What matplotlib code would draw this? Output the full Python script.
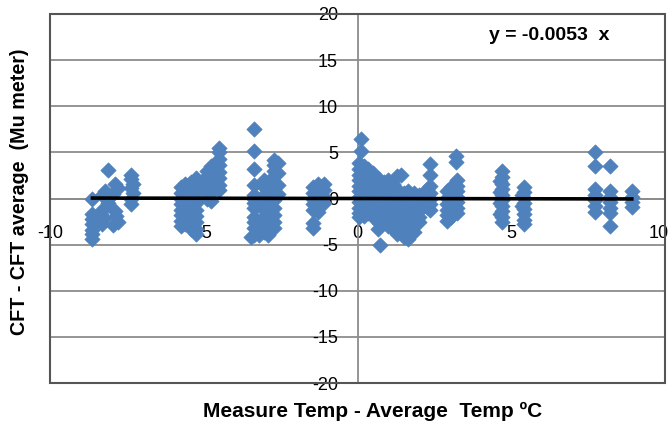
import matplotlib
matplotlib.use("Agg")
import matplotlib.pyplot as plt
from matplotlib.patches import Rectangle
from matplotlib.transforms import ScaledTranslation
import numpy as np

plt.rcParams['font.family'] = ['Liberation Sans', 'DejaVu Sans']

# ---- data ----
x_a = [-8.62] * 7
y_a = [0.0, -1.7, -2.2, -2.8, -3.4, -3.9, -4.4]
x_b = [-8.12, -8.3, -8.2, -8.3, -8.25, -8.3, -8.05, -8.1, -8.35, -8.4]
y_b = [3.1, 0.4, 0.8, -1.2, -2.1, -2.8, 0.2, -0.5, -1.7, -2.4]
x_c = [-7.9, -7.8, -7.95, -7.85, -7.8, -7.95, -7.9]
y_c = [1.6, 1.1, 0.5, -1.9, -2.5, -2.9, -1.4]
x_d = [-7.35, -7.35, -7.3, -7.35, -7.3, -7.35, -7.35]
y_d = [2.6, 2.1, 1.6, 1.1, 0.6, 0.0, -0.6]
x_e = [-5.75] * 8 + [-5.6] * 8 + [-5.4] * 9 + [-5.25] * 10
y_e = [1.2, 0.6, 0.0, -0.6, -1.2, -1.8, -2.4, -3.0,
       1.6, 1.0, 0.3, -0.3, -1.0, -1.6, -2.2, -2.8,
       1.8, 1.2, 0.5, -0.2, -0.8, -1.5, -2.1, -2.7, -3.3,
       2.2, 1.5, 0.8, 0.1, -0.5, -1.2, -1.9, -2.6, -3.3, -3.8]
x_f = [-4.9] * 6 + [-4.78] * 6 + [-4.5] * 8 + [-4.62] * 4
y_f = [3.0, 2.4, 1.8, 1.2, 0.6, 0.0,
       3.5, 2.8, 2.0, 1.3, 0.6, -0.3,
       5.5, 5.0, 4.3, 3.6, 2.9, 2.2, 1.5, 0.9,
       3.2, 2.5, 1.8, 1.2]
x_g = [-3.35] * 12 + [-3.45, -3.2]
y_g = [7.5, 5.1, 3.2, 1.5, 0.4, 0.0, -0.5, -1.0, -2.0, -2.6, -3.2, -4.0,
       -4.2, -4.0]
x_h = [-3.05] * 8 + [-2.9] * 8 + [-2.72] * 12 + [-2.6] * 4
y_h = [2.0, 1.2, 0.4, -0.4, -1.2, -2.0, -2.8, -3.6,
       1.5, 0.8, -0.2, -1.0, -1.8, -2.6, -3.4, -4.0,
       4.2, 3.6, 3.0, 2.4, 1.8, 1.2, 0.5, -0.2, -1.0, -1.8, -2.5, -3.2,
       3.8, 2.8, 1.5, 0.5]
x_i = [-1.45] * 7 + [-1.3] * 6 + [-1.1] * 4
y_i = [1.2, 0.6, 0.0, -0.6, -1.2, -2.7, -3.2,
       1.6, 1.0, 0.4, -0.3, -0.9, -1.5,
       1.6, 0.9, 0.2, -0.5]
x_j = [0.1, 0.1] + [0.05] * 11 + [0.2] * 10 + [0.35] * 9 + [0.5] * 9 + [0.68, 0.72]
y_j = [6.4, 5.2,
       3.8, 3.2, 2.6, 2.0, 1.4, 0.8, 0.2, -0.4, -1.0, -1.6, -2.0,
       3.5, 2.9, 2.3, 1.7, 1.1, 0.5, -0.1, -0.7, -1.3, -1.9,
       3.2, 2.6, 2.0, 1.4, 0.8, 0.2, -0.4, -1.0, -1.6,
       2.8, 2.2, 1.6, 1.0, 0.4, -0.2, -0.8, -1.4, -2.0,
       -3.3, -5.0]
x_k = ([0.7] * 9 + [0.85] * 8 + [1.0] * 9 + [1.15] * 9 + [1.3] * 10 + [1.4]
       + [1.5] * 9 + [1.65] * 9 + [1.85] * 8 + [2.0] * 6)
y_k = [2.1, 1.4, 0.8, 0.2, -0.4, -1.0, -1.6, -2.2, -2.7,
       1.8, 1.2, 0.5, -0.1, -0.7, -1.3, -1.9, -2.5,
       2.0, 1.4, 0.6, 0.0, -0.6, -1.2, -1.8, -2.4, -3.0,
       1.6, 0.9, 0.3, -0.3, -0.9, -1.5, -2.1, -2.7, -3.3,
       2.4, 1.0, 0.4, -0.2, -0.8, -1.4, -2.0, -2.6, -3.2, -3.8,
       2.6,
       0.6, 0.0, -0.6, -1.2, -1.8, -2.4, -3.0, -3.6, -4.2,
       0.8, 0.2, -0.4, -1.0, -1.6, -2.2, -2.8, -3.4, -4.4,
       0.6, 0.0, -0.6, -1.2, -1.8, -2.4, -3.0, -3.6,
       0.4, -0.2, -0.8, -1.4, -2.0, -2.6]
x_l = [2.36] * 7 + [2.25] * 3
y_l = [3.7, 2.5, 1.4, 0.6, 0.0, -0.6, -1.3, 1.0, -0.3, -0.9]
x_m = [3.2, 3.2] + [3.25] * 7 + [3.05] * 6 + [2.9] * 6
y_m = [4.6, 4.0,
       2.0, 1.4, 0.8, 0.2, -0.4, -1.0, -1.6,
       1.2, 0.5, -0.2, -0.8, -1.4, -2.0,
       0.8, 0.1, -0.6, -1.2, -1.8, -2.4]
x_n = [4.7] * 10 + [4.65] * 4
y_n = [3.0, 2.3, 1.6, 1.0, 0.4, -0.2, -0.8, -1.4, -2.0, -2.6,
       1.9, 0.7, -0.5, -1.7]
x_o = [5.4] * 8 + [5.35] * 2
y_o = [1.3, 0.7, 0.1, -0.5, -1.1, -1.7, -2.3, -2.8, 0.4, -0.8]
x_p = [7.72] * 7
y_p = [5.0, 3.5, 1.0, 0.4, -0.2, -0.8, -1.5]
x_q = [8.21] * 7
y_q = [3.5, 0.8, 0.2, -0.4, -1.0, -1.6, -3.0]
x_r = [8.92] * 4
y_r = [0.8, 0.2, -0.4, -0.9]

x_data = np.array(x_a + x_b + x_c + x_d + x_e + x_f + x_g + x_h + x_i + x_j
                  + x_k + x_l + x_m + x_n + x_o + x_p + x_q + x_r)
y_data = np.array(y_a + y_b + y_c + y_d + y_e + y_f + y_g + y_h + y_i + y_j
                  + y_k + y_l + y_m + y_n + y_o + y_p + y_q + y_r)

slope = -0.0053
x_ticks = [-10, -5, 0, 5, 10]
y_ticks = [-20, -15, -10, -5, 0, 5, 10, 15, 20]

# ---- figure ----
W, H = 668, 424
fig = plt.figure(figsize=(W / 100, H / 100), dpi=100)
ax = fig.add_axes([50 / W, 1 - 383 / H, 615 / W, 369 / H])
ax.set_xlim(-10, 10)
ax.set_ylim(-20, 20)

grid_c = '#8c8c8c'
for yv in y_ticks[1:-1]:
    ax.axhline(yv, color=grid_c, lw=1.3, zorder=1)

for s in ['top', 'right']:
    ax.spines[s].set_visible(False)
ax.spines['left'].set_position(('data', 0))
ax.spines['bottom'].set_position(('data', 0))
for s in ['left', 'bottom']:
    ax.spines[s].set_color(grid_c)
    ax.spines[s].set_linewidth(1.3)

ax.add_patch(Rectangle((0, 0), 1, 1, transform=ax.transAxes, fill=False,
                       edgecolor='#555555', lw=1.5, zorder=5, clip_on=False))

ax.set_xticks(x_ticks)
ax.set_yticks(y_ticks)
ax.set_xticklabels([str(v) for v in x_ticks])
ax.set_yticklabels([str(v) for v in y_ticks])
ax.tick_params(axis='x', length=0, pad=19, labelsize=13)
ax.tick_params(axis='y', length=0, pad=14, labelsize=13)
xlabels = ax.get_xticklabels()
for lab in xlabels + ax.get_yticklabels():
    lab.set_clip_on(False)
# keep the right-most label inside the figure
last = xlabels[-1]
last.set_horizontalalignment('right')
last.set_transform(last.get_transform() + ScaledTranslation(3 / 72, 0, fig.dpi_scale_trans))

ax.scatter(x_data, y_data, marker='D', s=62, color='#4F81BD',
           edgecolors='#4F81BD', linewidths=0.4, zorder=3)

xl = np.array([x_data.min(), x_data.max()])
ax.plot(xl, slope * xl, color='black', lw=2.6, zorder=4)

fig.text(549 / W, 1 - 35 / H, 'y = -0.0053  x',
         ha='center', va='center', fontsize=14, fontweight='bold')

fig.text(373 / W, 1 - 411 / H, 'Measure Temp - Average  Temp ºC',
         ha='center', va='center', fontsize=15, fontweight='bold')
fig.text(20 / W, 1 - 192 / H, 'CFT - CFT average  (Mu meter)',
         ha='center', va='center', rotation=90, fontsize=14.2, fontweight='bold')

fig.savefig('out.png', dpi=100)
